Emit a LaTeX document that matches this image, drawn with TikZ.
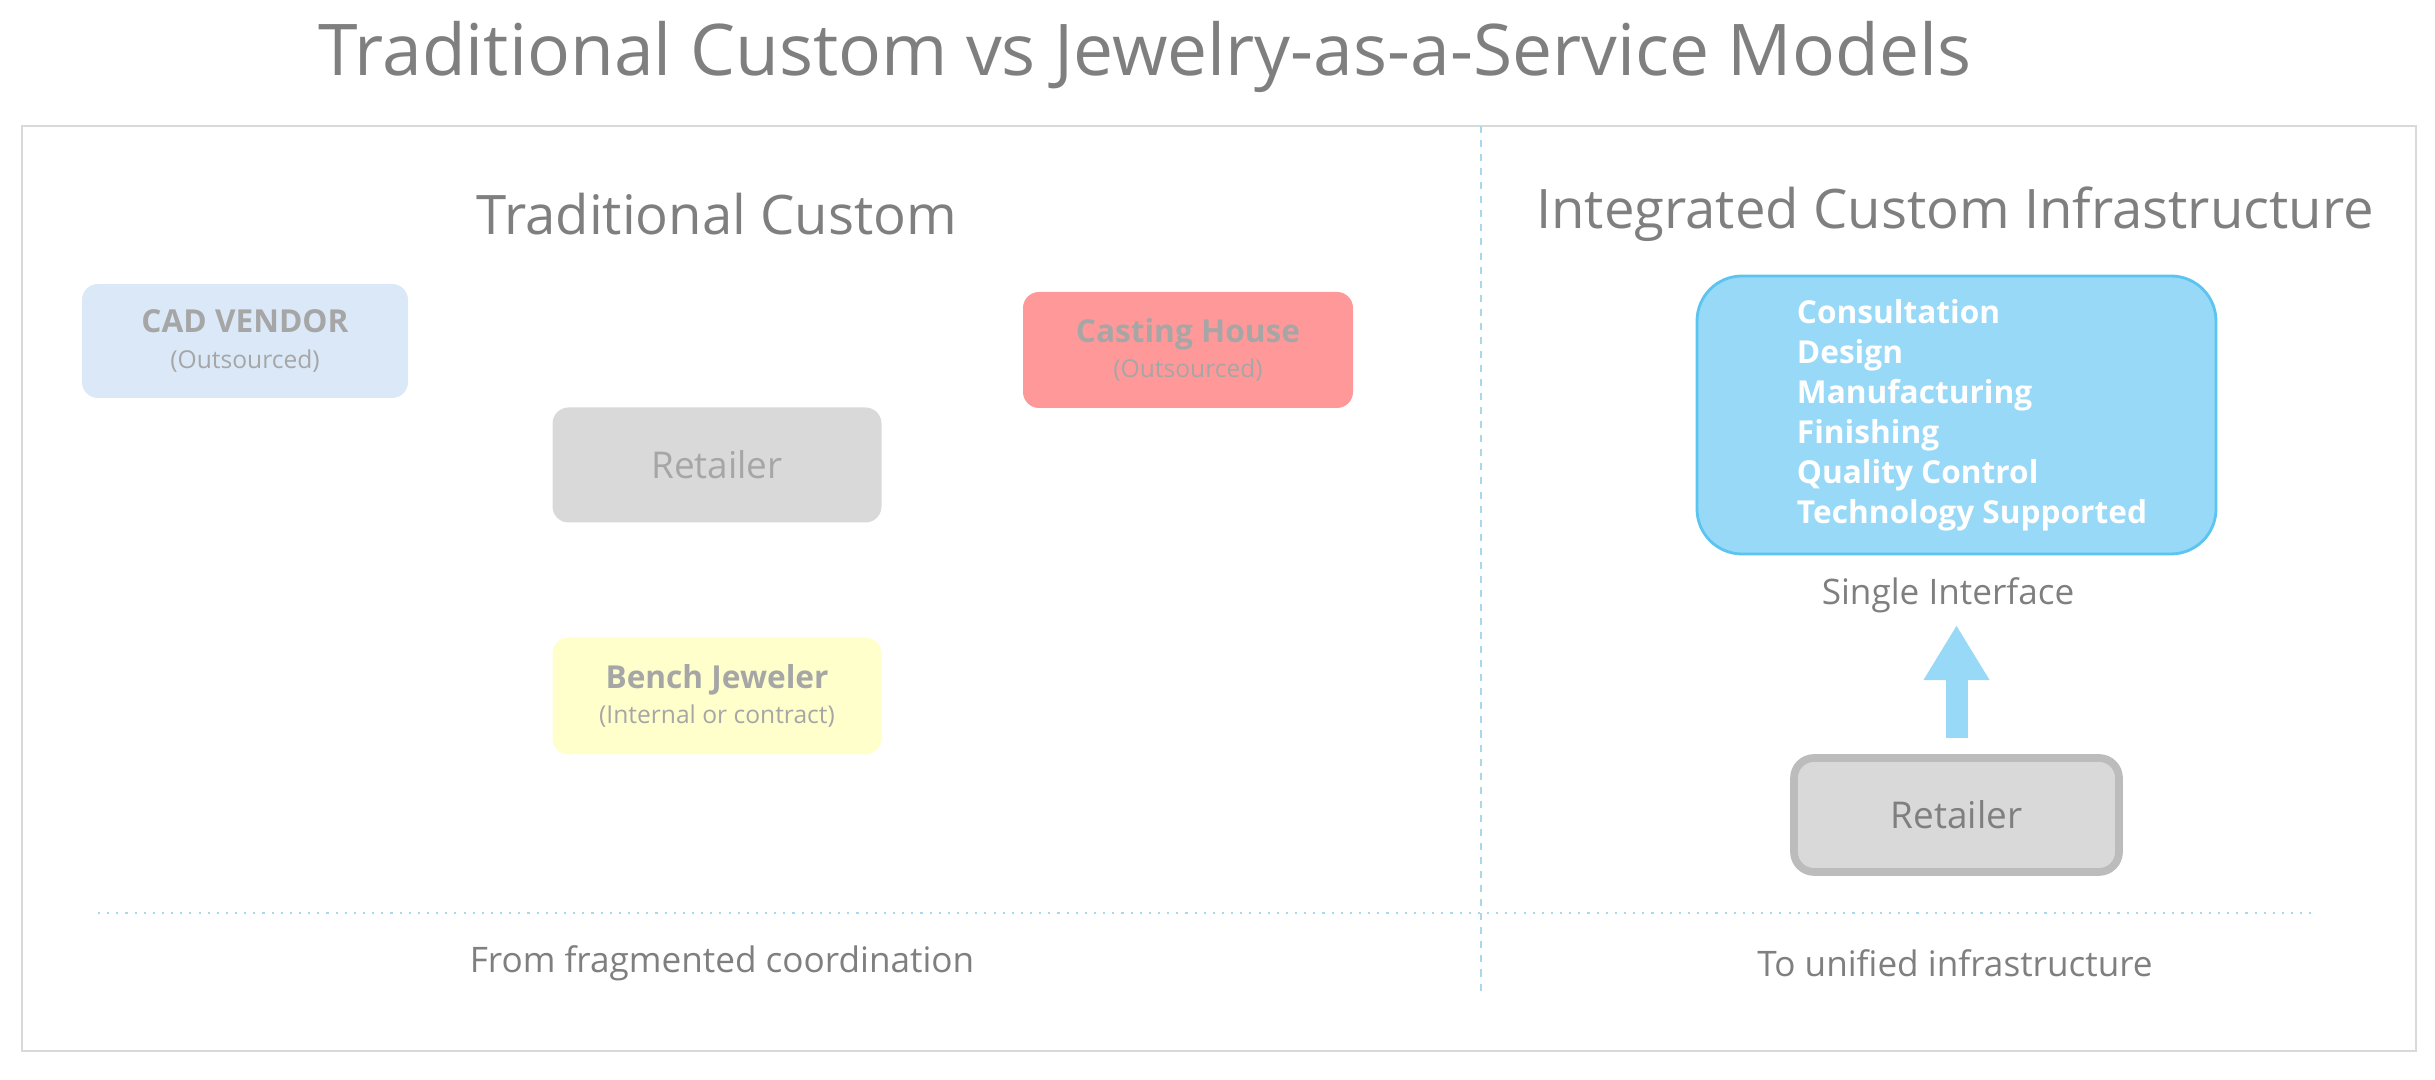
\documentclass[tikz,border=0pt]{standalone}
\usepackage{fontspec}
\setmainfont{Open Sans}
\usepackage{xcolor}
\usetikzlibrary{arrows.meta,positioning}
\definecolor{textgray}{HTML}{7F7F7F}
\definecolor{fadegray}{HTML}{A6A6A6}
\definecolor{cadblue}{HTML}{DAE8F7}
\definecolor{castred}{HTML}{FF9999}
\definecolor{retailgray}{HTML}{D9D9D9}
\definecolor{benchyellow}{HTML}{FFFFCC}
\definecolor{infrablue}{HTML}{97D9F7}
\definecolor{infraedge}{HTML}{5BC4F0}
\definecolor{dotblue}{HTML}{A8D8EE}
\definecolor{framegray}{HTML}{D9D9D9}
\newcommand{\subnote}[1]{{\fontsize{7}{9}\selectfont\mdseries #1}}
\tikzset{
  party/.style={rounded corners=0.16cm, align=center, minimum width=3.29cm, minimum height=1.15cm, text=fadegray, font=\fontsize{9}{11}\selectfont\bfseries},
  heading/.style={text=textgray, font=\fontsize{15.5}{18}\selectfont},
  caption/.style={text=textgray, font=\fontsize{10}{12}\selectfont},
  divider/.style={dotblue, line width=0.6pt},
  bigarrow/.style={infrablue, line width=0.22cm, -{Triangle[length=0.55cm, width=0.62cm]}}
}
\begin{document}
\begin{tikzpicture}
  \useasboundingbox (0,0) rectangle (24.35,10.8);
  \draw[framegray, line width=0.8pt] (0.22,0.29) rectangle (24.16,9.54);

  \node[text=textgray, font=\fontsize{20.3}{24}\selectfont] (title) at (11.45,10.23) {Traditional Custom vs Jewelry-as-a-Service Models};

  % dividers
  \coordinate (vtop) at (14.81,9.54);
  \coordinate (vbot) at (14.81,0.86);
  \coordinate (hleft) at (0.98,1.67);
  \coordinate (hright) at (23.11,1.67);
  \draw[divider, dash pattern=on 2pt off 2pt] (vtop) -- (vbot);
  \draw[divider, dotted] (hleft) -- (hright);

  % traditional side
  \node[heading] (tradhead) at (7.17,8.66) {Traditional Custom};
  \node[party, fill=cadblue, minimum width=3.26cm, minimum height=1.14cm] (cad) at (2.45,7.39) {CAD VENDOR\\[-1pt]\subnote{(Outsourced)}};
  \node[party, fill=castred, minimum width=3.30cm, minimum height=1.16cm] (cast) at (11.88,7.30) {Casting House\\[-1pt]\subnote{(Outsourced)}};
  \node[party, fill=retailgray, font=\fontsize{10.5}{12}\selectfont] (retail) at (7.17,6.15) {Retailer};
  \node[party, fill=benchyellow, minimum height=1.17cm] (bench) at (7.17,3.84) {Bench Jeweler\\[-1pt]\subnote{(Internal or contract)}};
  \node[caption] (fromtxt) at (7.22,1.17) {From fragmented coordination};

  % integrated side
  \node[heading] (inthead) at (19.55,8.66) {Integrated Custom Infrastructure};
  \node[draw=infraedge, fill=infrablue, line width=0.8pt, rounded corners=0.45cm, minimum width=5.19cm, minimum height=2.78cm] (infra) at (19.565,6.65) {};
  \node[text=white, align=left, font=\fontsize{9}{11.4}\selectfont\bfseries] (services) at (19.72,6.65) {Consultation\\Design\\Manufacturing\\Finishing\\Quality Control\\Technology Supported};
  \node[caption] (single) at (19.48,4.85) {Single Interface};
  \node[draw=fadegray!75, fill=retailgray, line width=2.2pt, rounded corners=0.2cm, minimum width=3.25cm, minimum height=1.14cm, text=textgray, font=\fontsize{10.5}{12}\selectfont] (retail2) at (19.565,2.65) {Retailer};
  \node[caption] (totxt) at (19.55,1.17) {To unified infrastructure};

  \draw[bigarrow, shorten <=0.16cm] (retail2.north) -- (retail2.north |- single.south);
\end{tikzpicture}
\end{document}
